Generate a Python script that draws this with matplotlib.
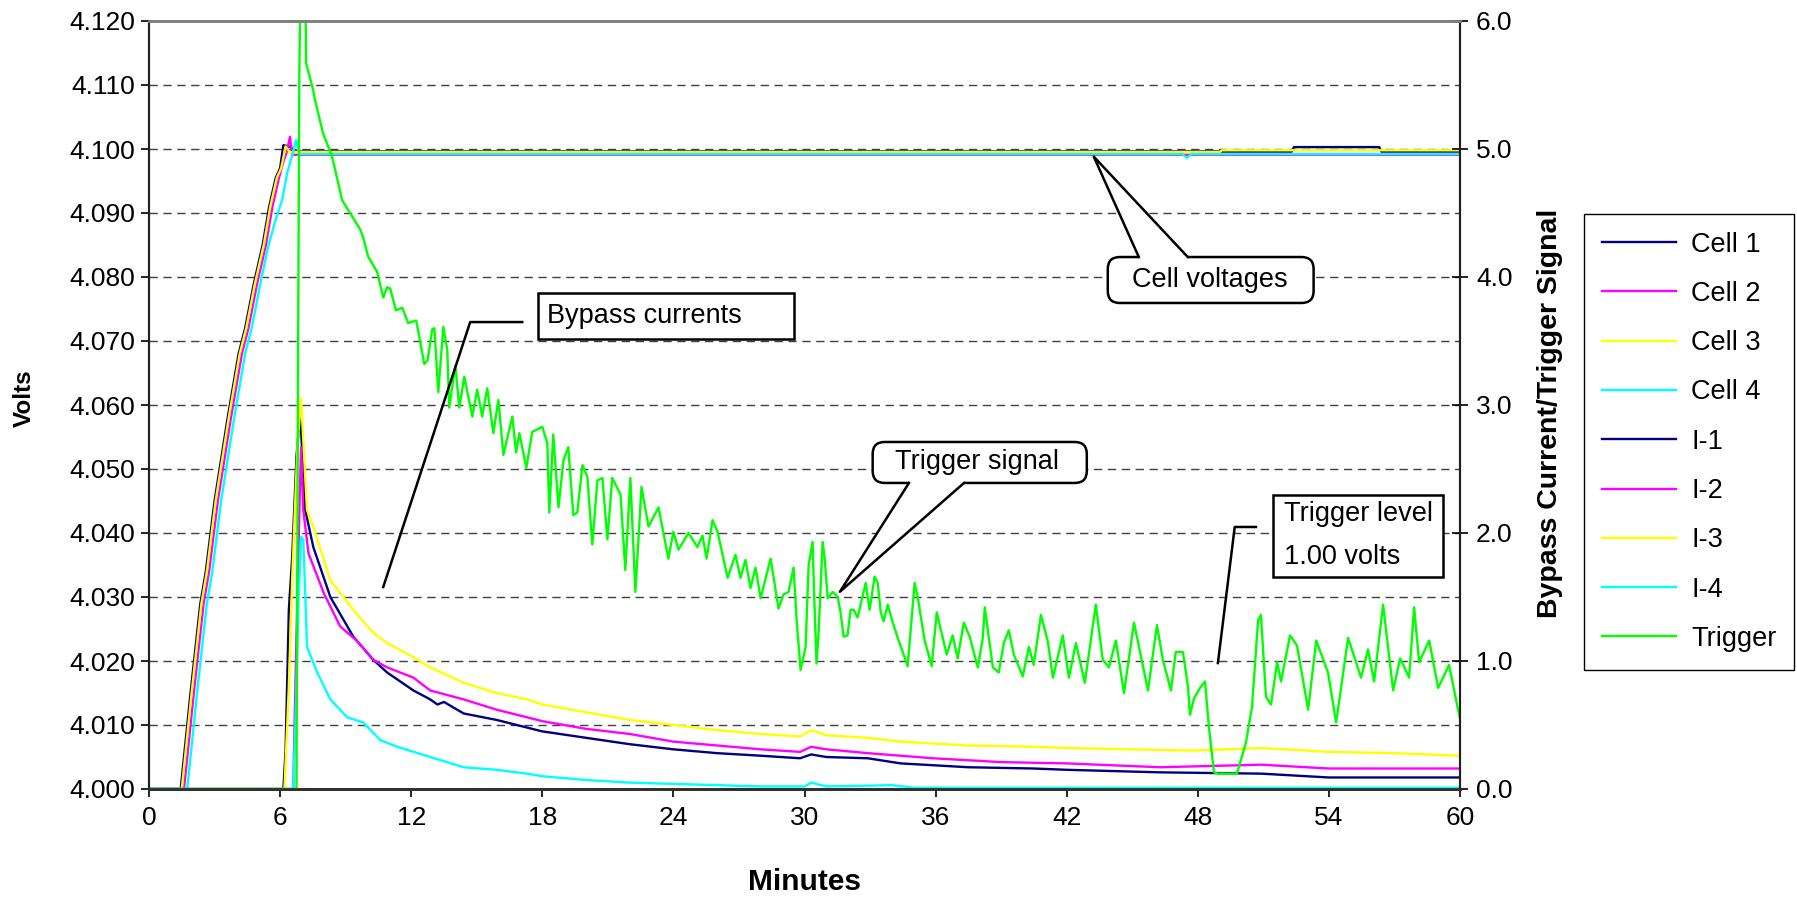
import matplotlib
matplotlib.use("Agg")
import matplotlib.pyplot as plt
import numpy as np
from matplotlib.patches import FancyBboxPatch, Rectangle, Polygon
from matplotlib.lines import Line2D

plt.rcParams['font.family'] = ['Liberation Sans', 'DejaVu Sans']

# ---------------- data ----------------
minutes_ticks = list(range(0, 61, 6))
volt_ticks = [4.000 + 0.01 * i for i in range(13)]
right_ticks = [0.0, 1.0, 2.0, 3.0, 4.0, 5.0, 6.0]

cell1_t = [0, 1.45, 1.9, 2.35, 2.6, 3.0, 3.6, 4.1, 4.4, 4.8, 5.2, 5.5, 5.8, 6.0, 6.15, 6.5, 6.6, 52.3, 52.4, 56.3, 56.4, 60]
cell1_v = [4.000, 4.000, 4.015, 4.029, 4.034, 4.045, 4.058, 4.068, 4.072, 4.079, 4.085, 4.091, 4.0955, 4.097, 4.1006, 4.1003, 4.0996, 4.0996, 4.1003, 4.1003, 4.0996, 4.0996]

cell2_t = [0, 1.6, 2.05, 2.5, 2.75, 3.15, 3.75, 4.25, 4.55, 4.95, 5.35, 5.65, 5.95, 6.15, 6.3, 6.45, 6.55, 60]
cell2_v = [4.000, 4.000, 4.015, 4.029, 4.034, 4.045, 4.058, 4.068, 4.072, 4.079, 4.085, 4.091, 4.0955, 4.098, 4.0995, 4.1019, 4.0991, 4.0991]

cell3_t = [0, 1.5, 1.95, 2.4, 2.65, 3.05, 3.65, 4.15, 4.45, 4.85, 5.25, 5.55, 5.85, 6.05, 6.25, 6.45, 49.0, 49.1, 60]
cell3_v = [4.000, 4.000, 4.015, 4.029, 4.034, 4.045, 4.058, 4.068, 4.072, 4.079, 4.085, 4.091, 4.0955, 4.097, 4.1004, 4.0995, 4.0995, 4.0998, 4.0998]

cell4_t = [0, 1.75, 2.2, 2.65, 2.9, 3.3, 3.9, 4.4, 4.7, 5.1, 5.45, 5.8, 6.09, 6.32, 6.55, 6.73, 6.9, 47.3, 47.5, 47.7, 60]
cell4_v = [4.000, 4.000, 4.015, 4.029, 4.034, 4.045, 4.058, 4.068, 4.072, 4.079, 4.0847, 4.089, 4.092, 4.0962, 4.0990, 4.1014, 4.0992, 4.0992, 4.0986, 4.0992, 4.0992]

i1_t = [0, 6.15, 6.25, 6.4, 6.55, 6.75, 6.92, 7.05, 7.15, 7.52, 8.3, 9.35, 10.26, 10.9, 12.1, 12.87, 13.2, 13.5, 14.4, 15.9, 17.3,
        18, 20, 22, 24, 26, 28, 29.8, 30.3, 31, 32.9, 34.4, 37.5, 40.5, 42, 46.3, 50.9, 54, 60]
i1_v = [0, 0, 0.3, 1.4, 1.8, 2.6, 2.94, 2.5, 2.18, 1.89, 1.5, 1.19, 1.01, 0.91, 0.77, 0.70, 0.66, 0.68, 0.59, 0.54, 0.48,
        0.45, 0.40, 0.35, 0.31, 0.28, 0.26, 0.24, 0.27, 0.25, 0.24, 0.20, 0.17, 0.16, 0.15, 0.13, 0.12, 0.09, 0.09]

i2_t = [0, 6.6, 6.75, 6.9, 6.96, 7.06, 7.3, 8.0, 8.75, 9.5, 10.26, 10.9, 12.1, 12.87, 14.4, 15.9, 17.3,
        18, 20, 22, 24, 26, 28, 29.8, 30.3, 31, 32.9, 35.9, 39, 42, 46.3, 50.9, 54, 60]
i2_v = [0, 0, 1.2, 2.3, 2.67, 2.18, 1.84, 1.53, 1.27, 1.16, 1.01, 0.95, 0.87, 0.77, 0.70, 0.62, 0.56,
        0.53, 0.47, 0.43, 0.37, 0.34, 0.31, 0.29, 0.33, 0.31, 0.28, 0.24, 0.21, 0.20, 0.17, 0.19, 0.16, 0.16]

i3_t = [0, 6.2, 6.4, 6.55, 6.8, 6.96, 7.1, 7.23, 7.52, 8.3, 9.35, 10.26, 10.9, 12.1, 12.87, 14.4, 15.9, 17.3,
        18, 20, 22, 24, 26, 28, 29.8, 30.3, 31, 32.9, 34.4, 37.5, 40.5, 42, 47.8, 50.9, 54, 57, 60]
i3_v = [0, 0, 0.8, 1.63, 2.7, 3.05, 2.6, 2.18, 2.05, 1.63, 1.40, 1.22, 1.14, 1.03, 0.95, 0.83, 0.75, 0.70,
        0.66, 0.60, 0.54, 0.50, 0.46, 0.43, 0.41, 0.46, 0.42, 0.40, 0.37, 0.34, 0.33, 0.32, 0.30, 0.32, 0.29, 0.28, 0.26]

i4_t = [0, 6.6, 6.7, 6.85, 6.96, 7.06, 7.15, 7.23, 7.7, 8.3, 9.07, 9.8, 10.6, 11.36, 12.87, 14.4, 15.9, 17.3,
        18, 20, 22, 24, 26, 28, 30, 30.3, 31, 34, 35, 60]
i4_v = [0, 0, 0.5, 1.5, 1.97, 1.95, 1.53, 1.11, 0.91, 0.70, 0.56, 0.52, 0.38, 0.33, 0.25, 0.17, 0.15, 0.12,
        0.10, 0.07, 0.05, 0.04, 0.03, 0.02, 0.02, 0.05, 0.02, 0.03, 0.01, 0.01]

trig_t = [0, 6.75, 6.82, 6.88, 6.98, 7.12, 7.19, 7.5, 7.6, 7.97, 8.38, 8.84, 9.2, 9.67, 9.8, 10.03, 10.44, 10.72, 10.9, 11.04,
          11.3, 11.59, 11.86, 12.23, 12.6, 12.75, 12.96, 13.06, 13.24, 13.47, 13.65, 13.74, 14.02, 14.2, 14.43, 14.8, 15.02,
          15.25, 15.48, 15.76, 15.99, 16.22, 16.63, 16.8, 16.95, 17.27, 17.54, 18.0, 18.23, 18.32, 18.5, 18.74, 18.97, 19.19,
          19.42, 19.6, 19.84, 20.06, 20.29, 20.52, 20.75, 20.98, 21.2, 21.58, 21.8, 22.03, 22.26, 22.54, 22.86, 23.32, 23.77,
          24.0, 24.23, 24.69, 25.1, 25.33, 25.52, 25.79, 26.02, 26.48, 26.84, 27.07, 27.3, 27.53, 27.76, 27.99, 28.45, 28.81,
          29.04, 29.27, 29.5, 29.64, 29.82, 30.05, 30.19, 30.37, 30.42, 30.55, 30.65, 30.83, 30.92, 31.06, 31.29, 31.52, 31.65,
          31.79, 31.97, 32.11, 32.25, 32.43, 32.8, 32.98, 33.21, 33.35, 33.49, 33.62, 33.81, 34.04, 34.31, 34.72, 35.04, 35.18,
          35.5, 35.82, 36.05, 36.51, 36.78, 37.01, 37.29, 37.56, 37.93, 38.16, 38.25, 38.62, 38.89, 39.12, 39.35, 39.58, 39.99,
          40.27, 40.49, 40.82, 41.14, 41.37, 41.82, 42.1, 42.42, 42.83, 43.2, 43.33, 43.65, 43.93, 44.25, 44.62, 45.08, 45.72,
          46.13, 46.4, 46.77, 46.99, 47.32, 47.55, 47.64, 47.83, 48.14, 48.33, 48.51, 48.74, 48.92, 49.79, 50.2, 50.48, 50.76,
          50.89, 51.12, 51.35, 51.63, 51.81, 52.22, 52.54, 53.05, 53.42, 53.96, 54.33, 54.88, 55.47, 55.79, 56.07, 56.48, 56.94,
          57.26, 57.67, 57.9, 58.13, 58.59, 59.0, 59.5, 59.91, 60.0]
trig_v = [0, 0, 3.3, 5.6, 6.9, 6.9, 5.67, 5.47, 5.38, 5.12, 4.94, 4.60, 4.50, 4.37, 4.31, 4.16, 4.04, 3.84, 3.92, 3.91,
          3.74, 3.76, 3.64, 3.66, 3.32, 3.35, 3.59, 3.60, 3.10, 3.61, 3.43, 2.98, 3.31, 2.98, 3.22, 2.91, 3.12,
          2.91, 3.13, 2.78, 3.04, 2.61, 2.91, 2.63, 2.78, 2.51, 2.79, 2.83, 2.70, 2.16, 2.77, 2.20, 2.57, 2.67,
          2.14, 2.16, 2.53, 2.44, 1.91, 2.41, 2.43, 1.95, 2.43, 2.30, 1.71, 2.43, 1.54, 2.36, 2.05, 2.20, 1.80,
          2.01, 1.87, 2.00, 1.89, 1.98, 1.80, 2.10, 2.01, 1.65, 1.83, 1.65, 1.79, 1.57, 1.73, 1.49, 1.80, 1.41,
          1.52, 1.54, 1.73, 1.32, 0.93, 1.11, 1.75, 1.93, 1.63, 0.98, 1.24, 1.93, 1.81, 1.49, 1.54, 1.50, 1.38,
          1.19, 1.20, 1.40, 1.40, 1.34, 1.61, 1.40, 1.66, 1.61, 1.38, 1.31, 1.44, 1.30, 1.16, 0.96, 1.61, 1.50,
          1.16, 0.96, 1.38, 1.05, 1.20, 1.02, 1.30, 1.19, 0.95, 1.18, 1.42, 0.95, 0.91, 1.14, 1.24, 1.05, 0.88,
          1.11, 0.97, 1.36, 1.15, 0.87, 1.20, 0.87, 1.14, 0.83, 1.28, 1.44, 1.01, 0.95, 1.16, 0.75, 1.30, 0.77,
          1.28, 1.01, 0.77, 1.07, 1.07, 0.80, 0.58, 0.71, 0.80, 0.84, 0.48, 0.13, 0.12, 0.12, 0.36, 0.64, 1.32,
          1.36, 0.72, 0.66, 0.99, 0.84, 1.20, 1.12, 0.62, 1.16, 0.91, 0.52, 1.18, 0.87, 1.09, 0.84, 1.44, 0.77,
          1.02, 0.87, 1.42, 0.99, 1.16, 0.79, 0.97, 0.62, 0.55]

series_names = ['Cell 1', 'Cell 2', 'Cell 3', 'Cell 4', 'I-1', 'I-2', 'I-3', 'I-4', 'Trigger']
series_colors = ['#000080', '#FF00FF', '#FFFF00', '#00FFFF', '#000080', '#FF00FF', '#FFFF00', '#00FFFF', '#00FF00']

# ---------------- figure ----------------
W, H = 1797, 899
fig = plt.figure(figsize=(W / 100, H / 100), dpi=100)
ax = fig.add_axes([149 / W, 1 - 789 / H, (1460 - 149) / W, (789 - 21) / H])
ax2 = ax.twinx()

lw = 1.7
cells = [(cell1_t, cell1_v), (cell2_t, cell2_v), (cell3_t, cell3_v), (cell4_t, cell4_v)]
handles = []
for (t, v), c, n in zip(cells, series_colors[:4], series_names[:4]):
    h, = ax.plot(t, v, color=c, lw=lw, label=n)
    handles.append(h)
currs = [(i1_t, i1_v), (i2_t, i2_v), (i3_t, i3_v), (i4_t, i4_v), (trig_t, trig_v)]
for (t, v), c, n in zip(currs, series_colors[4:], series_names[4:]):
    h, = ax2.plot(t, v, color=c, lw=lw, label=n)
    handles.append(h)

ax.set_xlim(0, 60)
ax.set_ylim(4.0, 4.12)
ax2.set_ylim(0, 6.0)
ax.set_xticks(minutes_ticks)
ax.set_yticks(volt_ticks)
ax.set_yticklabels([f'{v:.3f}' for v in volt_ticks])
ax2.set_yticks(right_ticks)
ax2.set_yticklabels([f'{v:.1f}' for v in right_ticks])

ax.yaxis.grid(True, color='#404040', linestyle=(0, (6, 4)), linewidth=1.0)
ax.set_axisbelow(True)

ax.tick_params(axis='y', direction='out', length=6, width=1.2, labelsize=19, pad=4)
ax.tick_params(axis='x', direction='out', length=6, width=1.2, labelsize=19, pad=6)
ax2.tick_params(axis='y', direction='inout', length=11, width=1.2, labelsize=19, pad=6)

for a in (ax, ax2):
    a.spines['top'].set_color('#808080')
    a.spines['top'].set_linewidth(2.0)
    a.spines['left'].set_color('#202020')
    a.spines['left'].set_linewidth(1.5)
    a.spines['right'].set_color('#202020')
    a.spines['right'].set_linewidth(1.5)
    a.spines['bottom'].set_color('#303030')
    a.spines['bottom'].set_linewidth(2.0)

# axis titles
fig.text(24 / W, 1 - 398 / H, 'Volts', rotation=90, ha='center', va='center', fontsize=17.5,
         fontweight='bold')
fig.text(805 / W, 1 - 882 / H, 'Minutes', ha='center', va='center', fontsize=21.5, fontweight='bold')
fig.text(1550 / W, 1 - 413 / H, 'Bypass Current/Trigger Signal', rotation=90, ha='center', va='center',
         fontsize=20.5, fontweight='bold')

# legend
fig.legend(handles=handles, labels=series_names, loc='upper right',
           bbox_to_anchor=(1794 / W, 1 - 214 / H), fontsize=19.5, frameon=True, fancybox=False,
           edgecolor='black', framealpha=1, handlelength=2.75, handletextpad=0.55, labelspacing=0.86,
           borderpad=0.65, borderaxespad=0)

# ---------------- annotations (ax2 data coords) ----------------
ann_fs = 19.5
Z = 20
asp = 21.83 / 128.0  # px per minute / px per right-axis unit

def rect_box(x0, y0, x1, y1):
    r = Rectangle((x0, y0), x1 - x0, y1 - y0, facecolor='white', edgecolor='black', lw=1.8, zorder=Z)
    ax2.add_patch(r)

def callout(x0, y0, x1, y1, b1, b2, apex, side):
    p = FancyBboxPatch((x0, y0), x1 - x0, y1 - y0, boxstyle='round,pad=0,rounding_size=0.55',
                       mutation_aspect=asp, facecolor='white', edgecolor='black', lw=1.8, zorder=Z)
    ax2.add_patch(p)
    yb = y1 if side == 'top' else y0
    dy = -0.03 if side == 'top' else 0.03
    poly = Polygon([apex, (b1, yb), (b1, yb + dy), (b2, yb + dy), (b2, yb)], closed=True,
                   facecolor='white', edgecolor='none', zorder=Z + 1)
    ax2.add_patch(poly)
    ax2.add_line(Line2D([b1, apex[0], b2], [yb, apex[1], yb], color='black', lw=1.8, zorder=Z + 2))

# Bypass currents
ax2.add_line(Line2D([17.08, 14.70, 10.72], [3.648, 3.648, 1.578], color='black', lw=1.8, zorder=Z))
rect_box(17.82, 3.516, 29.50, 3.875)
ax2.text(18.23, 3.695, 'Bypass currents', fontsize=ann_fs, ha='left', va='center', zorder=Z + 3)

# Cell voltages
callout(43.88, 3.797, 53.3, 4.156, 45.30, 47.54, (43.24, 4.94), 'top')
ax2.text(48.55, 3.975, 'Cell voltages', fontsize=ann_fs, ha='center', va='center', zorder=Z + 3)

# Trigger signal
callout(33.12, 2.391, 42.92, 2.711, 34.78, 37.30, (31.62, 1.541), 'bottom')
ax2.text(37.9, 2.553, 'Trigger signal', fontsize=ann_fs, ha='center', va='center', zorder=Z + 3)

# Trigger level
ax2.add_line(Line2D([50.66, 49.69, 48.92], [2.047, 2.047, 0.984], color='black', lw=1.8, zorder=Z))
rect_box(51.44, 1.656, 59.22, 2.297)
ax2.text(51.94, 1.977, 'Trigger level\n1.00 volts', fontsize=ann_fs, ha='left', va='center',
         linespacing=1.85, zorder=Z + 3)

fig.savefig('out.png', dpi=100)
